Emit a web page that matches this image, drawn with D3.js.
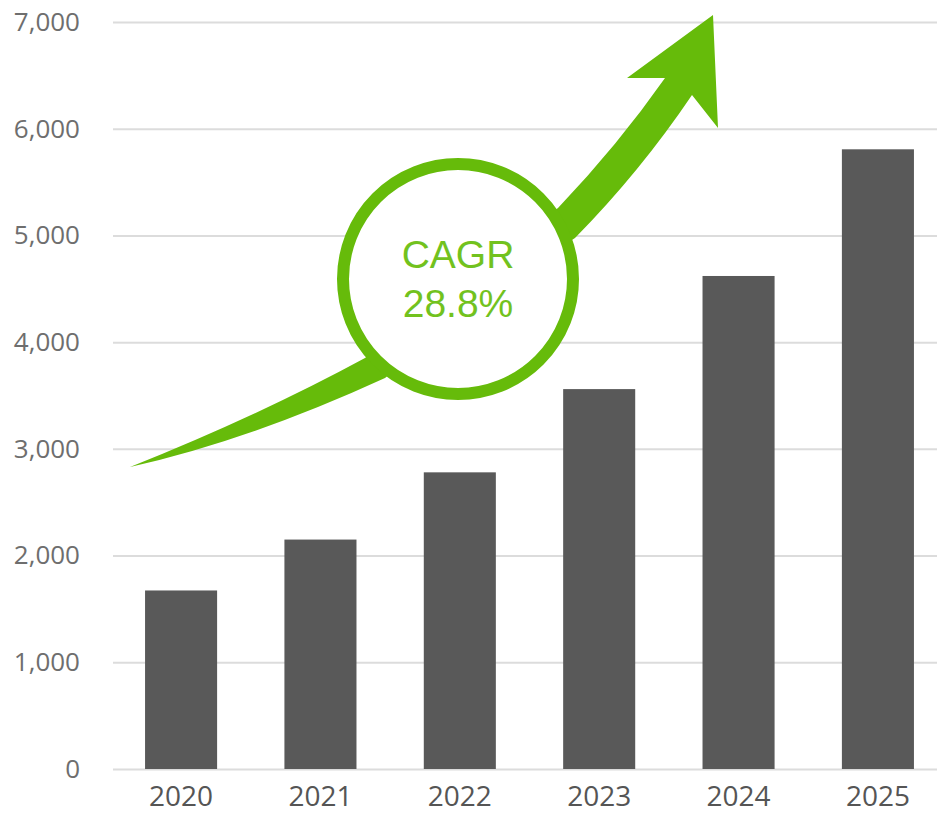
<!DOCTYPE html>
<html>
<head>
<meta charset="utf-8">
<script src="https://cdn.jsdelivr.net/npm/d3@7"></script>
<style>
  html, body { margin: 0; padding: 0; background: #fff; }
  svg { display: block; }
</style>
</head>
<body>
<div id="chart"></div>
<script>
// data
const years = ["2020", "2021", "2022", "2023", "2024", "2025"];
const values = [1673, 2150, 2780, 3560, 4620, 5807];
const yTicks = [0, 1000, 2000, 3000, 4000, 5000, 6000, 7000];
const cagrLines = ["CAGR", "28.8%"];

const W = 937, H = 817;
const green = "#66bb0a";

const svg = d3.select("#chart").append("svg")
    .attr("width", W)
    .attr("height", H);

// scales
const x = d3.scaleBand()
    .domain(years)
    .range([113, 946])
    .paddingInner(0.483)
    .paddingOuter(0.23);

const y = d3.scaleLinear()
    .domain([0, 7000])
    .range([769, 22]);

// grid + y labels
const yAxis = svg.append("g")
    .attr("transform", "translate(113,0)")
    .call(d3.axisLeft(y).tickValues(yTicks).tickSize(-(W - 113)).tickPadding(33).tickFormat(d3.format(",")));
yAxis.select(".domain").remove();
yAxis.selectAll(".tick line").attr("stroke", "#dcdcdc").attr("stroke-width", 2);
yAxis.selectAll(".tick text")
    .style("font-family", "'Open Sans', sans-serif")
    .style("font-size", "26px")
    .attr("fill", "#6e6e6e");

// bars
svg.selectAll(".bar")
    .data(values)
    .enter()
    .append("rect")
    .attr("class", "bar")
    .attr("x", (d, i) => x(years[i]))
    .attr("width", x.bandwidth())
    .attr("y", d => y(d))
    .attr("height", d => y(0) - y(d))
    .attr("fill", "#595959");

// x labels
const xAxis = svg.append("g")
    .attr("transform", `translate(0,${y(0)})`)
    .call(d3.axisBottom(x).tickSize(0).tickPadding(17));
xAxis.select(".domain").remove();
xAxis.selectAll(".tick text")
    .style("font-family", "'Open Sans', sans-serif")
    .style("font-size", "28px")
    .attr("fill", "#555");

// growth arrow (behind the circle)
const arrow = d3.path();
arrow.moveTo(130, 467);
arrow.quadraticCurveTo(260, 415, 365, 358);
arrow.lineTo(480, 262);
arrow.lineTo(558, 208);
arrow.quadraticCurveTo(618, 145, 665, 78);
arrow.lineTo(627, 78);
arrow.lineTo(713, 15);
arrow.lineTo(718, 128);
arrow.lineTo(692, 95);
arrow.quadraticCurveTo(640, 172, 575, 238);
arrow.lineTo(480, 300);
arrow.lineTo(385, 378);
arrow.quadraticCurveTo(250, 440, 130, 467);
arrow.closePath();
svg.append("path")
    .attr("d", arrow.toString())
    .attr("fill", green);

// CAGR circle
const cx = 458, cy = 279;
svg.append("circle")
    .attr("cx", cx)
    .attr("cy", cy)
    .attr("r", 115)
    .attr("fill", "#fff")
    .attr("stroke", green)
    .attr("stroke-width", 12);

svg.selectAll(".cagr")
    .data(cagrLines)
    .enter()
    .append("text")
    .attr("class", "cagr")
    .attr("x", cx)
    .attr("y", (d, i) => cy - 11 + i * 49)
    .attr("text-anchor", "middle")
    .style("font-family", "'Liberation Sans', sans-serif")
    .style("font-size", "39px")
    .attr("fill", "#72c21e")
    .text(d => d);
</script>
</body>
</html>
